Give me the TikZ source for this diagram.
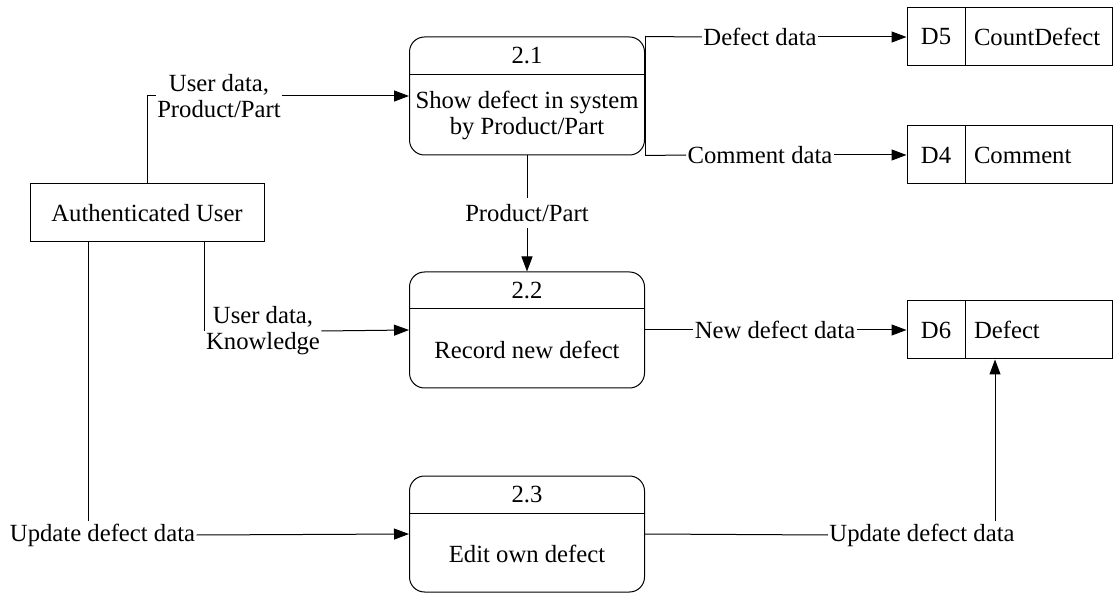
\documentclass[tikz,border=0pt]{standalone}
\usepackage{fontspec}
\setmainfont{Liberation Serif}
\usetikzlibrary{arrows.meta,calc}

\begin{document}
\begin{tikzpicture}[x=1pt,y=-1pt,
  every node/.style={font=\fontsize{24.7}{26}\selectfont},
  every path/.style={line width=1pt},
  proc/.style={draw,rounded corners=15pt,minimum width=235pt,minimum height=116pt,inner sep=0pt},
  store/.style={draw,minimum width=205pt,minimum height=58pt,inner sep=0pt},
  entity/.style={draw,minimum width=234pt,minimum height=58pt,inner sep=0pt},
  lbl/.style={inner xsep=1pt,inner ysep=0pt,align=center},
  vlbl/.style={inner xsep=1pt,inner ysep=6pt,align=center},
  flow/.style={-{Triangle[length=15pt,width=11pt]}}]

\useasboundingbox (0,0) rectangle (1114,593);

% external entity
\node[entity] (auth) at (147,213) {Authenticated User};

% processes
\node[proc,minimum height=118pt] (p1) at (527,96) {};
\draw ([yshift=-38pt]p1.north west) -- ([yshift=-38pt]p1.north east);
\node (p1n) at ([yshift=-19pt]p1.north) {2.1};
\node[align=center] (p1t) at ([yshift=40pt]p1.south) {Show defect in system\\by Product/Part};

\node[proc] (p2) at (527,330) {};
\draw ([yshift=-37pt]p2.north west) -- ([yshift=-37pt]p2.north east);
\node (p2n) at ([yshift=-19pt]p2.north) {2.2};
\node (p2t) at ([yshift=39pt]p2.south) {Record new defect};

\node[proc] (p3) at (527,534) {};
\draw ([yshift=-38pt]p3.north west) -- ([yshift=-38pt]p3.north east);
\node (p3n) at ([yshift=-19pt]p3.north) {2.3};
\node (p3t) at ([yshift=39pt]p3.south) {Edit own defect};

% data stores
\foreach \n/\id/\name/\y in {d5/D5/CountDefect/37, d4/D4/Comment/155, d6/D6/Defect/330}{
  \node[store] (\n) at (1009.5,\y) {};
  \draw ([xshift=59pt]\n.north west) -- ([xshift=59pt]\n.south west);
  \node (\n id) at ([xshift=29.5pt]\n.west) {\id};
  \node[anchor=west,inner sep=0pt] (\n name) at ([xshift=67pt]\n.west) {\name};
}

% flow labels
\node[lbl] (l1) at (219,96) {User data,\\Product/Part};
\node[lbl] (l2) at (263,331) {User data,\\Knowledge};
\node[lbl] (l3) at (102.5,535) {Update defect data};
\node[lbl] (l4) at (760,37) {Defect data};
\node[lbl] (l5) at (760,155) {Comment data};
\node[vlbl] (l6) at (527,213) {Product/Part};
\node[lbl] (l7) at (775,330) {New defect data};
\node[lbl] (l8) at (922,535) {Update defect data};
\coordinate (c3) at (88,521);
\coordinate (c8) at (995,521);

% data flows
\draw (auth.north) |- (l1.west);
\draw[flow] (l1.east) -- (p1.west);

\draw (auth.south -| l2.west) -- (l2.west);
\draw[flow] (l2.east) -- (p2.west);

\draw (auth.south -| c3) -- (c3);
\draw[flow] (l3.east) -- (p3.west);

\draw (p1.north east) -- (p1.south east);
\draw (p1.north east) -- (l4.west);
\draw[flow] (l4.east) -- (d5.west);
\draw (p1.south east) -- (l5.west);
\draw[flow] (l5.east) -- (d4.west);

\draw (p1.south) -- (l6.north);
\draw[flow] (l6.south) -- (p2.north);

\draw (p2.east) -- (l7.west);
\draw[flow] (l7.east) -- (d6.west);

\draw (p3.east) -- (l8.west);
\draw[flow] (c8) -- (c8 |- d6.south);

\end{tikzpicture}
\end{document}
